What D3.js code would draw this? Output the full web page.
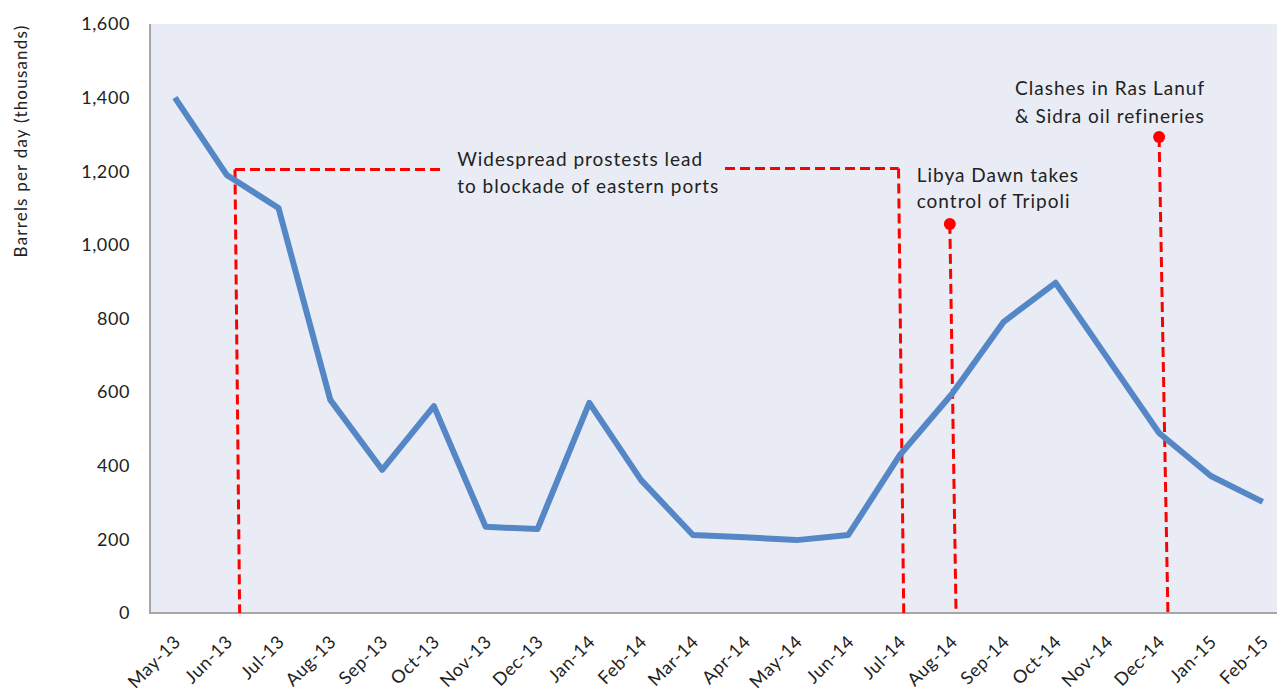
<!DOCTYPE html>
<html>
<head>
<meta charset="utf-8">
<script src="https://cdn.jsdelivr.net/npm/d3@7"></script>
<style>
	body { margin: 0; background: #fff; }
	svg { display: block; font-family: Lato, "Open Sans", sans-serif; }
	.tick-label { fill: #222; font-size: 18px; letter-spacing: 0.6px; }
	.note { fill: #222; font-size: 19px; letter-spacing: 1px; }
</style>
</head>
<body>
<svg id="chart" width="1277" height="691"></svg>
<script>
// Months on the x axis.
const months = ["May-13", "Jun-13", "Jul-13", "Aug-13", "Sep-13", "Oct-13", "Nov-13", "Dec-13",
	"Jan-14", "Feb-14", "Mar-14", "Apr-14", "May-14", "Jun-14", "Jul-14", "Aug-14",
	"Sep-14", "Oct-14", "Nov-14", "Dec-14", "Jan-15", "Feb-15"];
// Barrels per day (thousands).
const barrels = [1400, 1190, 1100, 579, 389, 562, 234, 228, 571, 361, 212, 206, 198, 212,
	430, 595, 791, 897, 693, 489, 372, 302];
const yTicks = [0, 200, 400, 600, 800, 1000, 1200, 1400, 1600];

// Annotations: fractional month index at top / bottom of the red line, value of the top end.
const events = [
	{ lines: ["Libya Dawn takes", "control of Tripoli"], top: 14.96, bottom: 15.08, value: 1057, tx: 14.32, ty: 1171, gap: 26 },
	{ lines: ["Clashes in Ras Lanuf", "& Sidra oil refineries"], top: 19.0, bottom: 19.17, value: 1293, tx: 16.22, ty: 1407, gap: 28 }
];
// The blockade bracket: from Jun-13 to Jul-14 at about 1,200.
const blockade = { lines: ["Widespread prostests lead", "to blockade of eastern ports"],
	left: [1.16, 1.25], right: [13.97, 14.07], value: 1205, gapFrom: 5.12, gapTo: 10.62 };

let svg = d3.select("#chart");
let plotLeft = 149, plotTop = 24, plotBottom = 613;
let step = 51.8;

let x = d3.scaleLinear()
	.domain([-0.5, months.length - 0.5])
	.range([plotLeft, plotLeft + step * months.length]);
let y = d3.scaleLinear()
	.domain([0, 1600])
	.range([plotBottom, plotTop]);

// Plot background.
svg.append("rect")
	.attr("x", plotLeft).attr("y", plotTop)
	.attr("width", x.range()[1] - plotLeft).attr("height", plotBottom - plotTop)
	.attr("fill", "#e9ecf4");

// Axis lines.
svg.append("line")
	.attr("x1", plotLeft + 1).attr("x2", plotLeft + 1).attr("y1", plotTop).attr("y2", plotBottom)
	.attr("stroke", "#a6a6a6").attr("stroke-width", 2);
svg.append("line")
	.attr("x1", plotLeft).attr("x2", x.range()[1]).attr("y1", plotBottom).attr("y2", plotBottom)
	.attr("stroke", "#a6a6a6").attr("stroke-width", 2);

// Y tick labels.
svg.selectAll(".ylab")
	.data(yTicks)
	.enter().append("text")
	.attr("class", "tick-label")
	.attr("x", 130)
	.attr("y", d => y(d))
	.attr("dy", "0.35em")
	.attr("text-anchor", "end")
	.text(d3.format(","));

// Y axis title.
svg.append("text")
	.attr("transform", "translate(27,141) rotate(-90)")
	.attr("text-anchor", "middle")
	.attr("font-size", 17)
	.attr("letter-spacing", "1.2px")
	.attr("fill", "#222")
	.text("Barrels per day (thousands)");

// X tick labels, rotated.
svg.selectAll(".xlab")
	.data(months)
	.enter().append("text")
	.attr("class", "tick-label")
	.attr("text-anchor", "end")
	.attr("transform", (d, i) => "translate(" + (x(i) + 7) + "," + 643 + ") rotate(-45)")
	.text(d => d);

// Red dashed annotation lines.
let red = "#ff0000";
function dashed(x1, y1, x2, y2) {
	svg.append("line")
		.attr("x1", x1).attr("y1", y1).attr("x2", x2).attr("y2", y2)
		.attr("stroke", red).attr("stroke-width", 3)
		.attr("stroke-dasharray", "10,5");
}

let by = y(blockade.value);
dashed(x(blockade.left[0]), by, x(blockade.left[1]), plotBottom);
dashed(x(blockade.left[0]), by, x(blockade.gapFrom), by);
dashed(x(blockade.gapTo), by - 1, x(blockade.right[0]), by - 1);
dashed(x(blockade.right[0]), by - 1, x(blockade.right[1]), plotBottom);
blockade.lines.forEach(function (t, i) {
	svg.append("text").attr("class", "note")
		.attr("x", x(5.45)).attr("y", by - 3 + i * 27)
		.text(t);
});

events.forEach(function (e) {
	dashed(x(e.top), y(e.value), x(e.bottom), plotBottom);
	svg.append("circle")
		.attr("cx", x(e.top)).attr("cy", y(e.value))
		.attr("r", 6).attr("fill", red);
	e.lines.forEach(function (t, i) {
		svg.append("text").attr("class", "note")
			.attr("x", x(e.tx)).attr("y", y(e.ty) + i * e.gap)
			.text(t);
	});
});

// The series line.
svg.append("path")
	.datum(barrels)
	.attr("fill", "none")
	.attr("stroke", "#5587c6")
	.attr("stroke-width", 6)
	.attr("stroke-linejoin", "round")
	.attr("d", d3.line()
		.x((d, i) => x(i))
		.y(d => y(d)));
</script>
</body>
</html>
